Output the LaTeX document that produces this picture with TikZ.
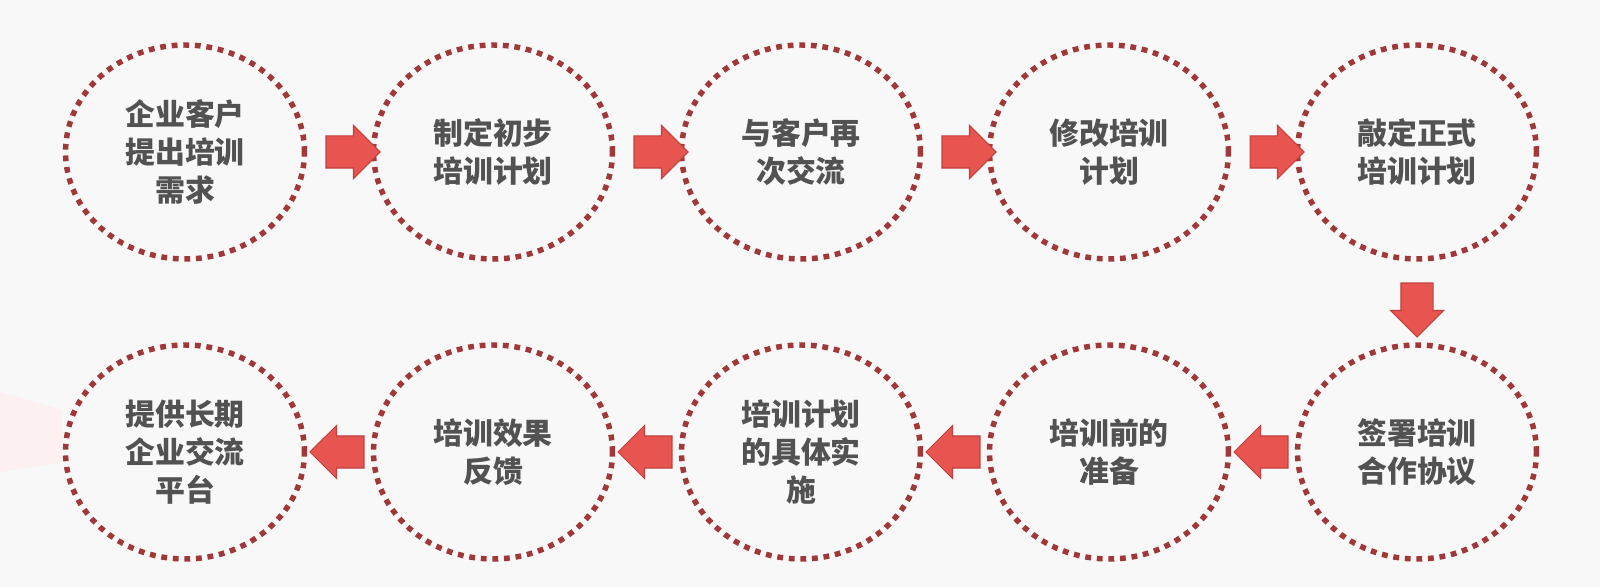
\documentclass[tikz,border=0pt]{standalone}
\usepackage{fontspec}
\usetikzlibrary{shapes.geometric,shapes.arrows,calc}
\newfontfamily\cjk{Noto Sans CJK SC}
\definecolor{dotRed}{RGB}{160,56,58}
\definecolor{arrowRed}{RGB}{232,85,80}
\definecolor{arrowEdge}{RGB}{192,64,62}
\definecolor{textGray}{RGB}{82,82,82}
\definecolor{bgGray}{RGB}{248,248,248}
\definecolor{bgPink}{RGB}{252,240,240}

\begin{document}
\begin{tikzpicture}[x=0.02cm, y=-0.02cm,
    stepnode/.style={ellipse, draw=dotRed, line width=3.1pt,
      dash pattern=on 3.3pt off 3.3pt, minimum width=4.78cm, minimum height=4.28cm,
      align=center, text=textGray, font=\cjk\bfseries\fontsize{17}{21.5}\selectfont},
    blockarrow/.style={single arrow, fill=arrowRed, draw=arrowEdge, line width=0.6pt,
      inner sep=0.31cm, single arrow head extend=0.21cm, minimum height=1.08cm}]
        % background
        \fill[bgGray] (0,0) rectangle (1600,587);
        \fill[bgPink] (0,392) -- (62,410) -- (62,462) -- (0,472) -- cycle;
        \useasboundingbox (0,0) rectangle (1600,587);

        % top row
        \node[stepnode] (s1) at (185,152) {企业客户\\提出培训\\需求};
        \node[stepnode] (s2) at (493,152) {制定初步\\培训计划};
        \node[stepnode] (s3) at (801,152) {与客户再\\次交流};
        \node[stepnode] (s4) at (1109,152) {修改培训\\计划};
        \node[stepnode] (s5) at (1417,152) {敲定正式\\培训计划};

        % bottom row
        \node[stepnode] (s6) at (1417,452) {签署培训\\合作协议};
        \node[stepnode] (s7) at (1109,452) {培训前的\\准备};
        \node[stepnode] (s8) at (801,452) {培训计划\\的具体实\\施};
        \node[stepnode] (s9) at (493,452) {培训效果\\反馈};
        \node[stepnode] (s10) at (185,452) {提供长期\\企业交流\\平台};

        % arrows
        \node[blockarrow] (a1) at ($(s1.east)!0.5!(s2.west)+(6,0)$) {};
        \node[blockarrow] (a2) at ($(s2.east)!0.5!(s3.west)+(6,0)$) {};
        \node[blockarrow] (a3) at ($(s3.east)!0.5!(s4.west)+(6,0)$) {};
        \node[blockarrow] (a4) at ($(s4.east)!0.5!(s5.west)+(6,0)$) {};
        \node[blockarrow, shape border rotate=270] (a5) at ($(s5.south)!0.5!(s6.north)$) {};
        \node[blockarrow, shape border rotate=180] (a6) at ($(s7.east)!0.5!(s6.west)+(6,0)$) {};
        \node[blockarrow, shape border rotate=180] (a7) at ($(s8.east)!0.5!(s7.west)+(6,0)$) {};
        \node[blockarrow, shape border rotate=180] (a8) at ($(s9.east)!0.5!(s8.west)+(6,0)$) {};
        \node[blockarrow, shape border rotate=180] (a9) at ($(s10.east)!0.5!(s9.west)+(6,0)$) {};
\end{tikzpicture}
\end{document}
